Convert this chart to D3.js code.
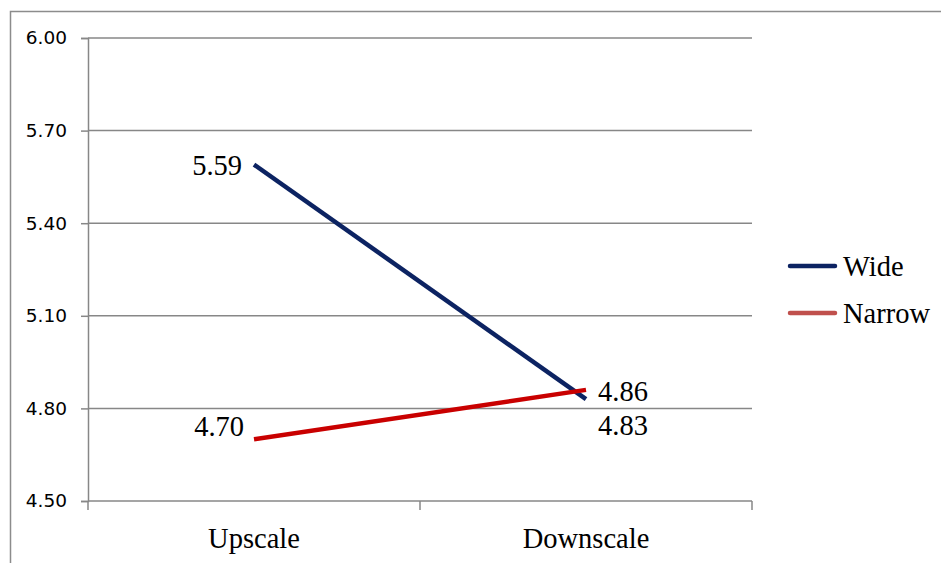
<!DOCTYPE html>
<html>
<head>
<meta charset="utf-8">
<script src="https://cdn.jsdelivr.net/npm/d3@7"></script>
<style>
  html, body { margin: 0; padding: 0; background: #fff; }
  svg { display: block; }
</style>
</head>
<body>
<svg id="chart" width="941" height="563"></svg>
<script>
// Chart data
const categories = ["Upscale", "Downscale"];
const wideValues = [5.59, 4.83];
const narrowValues = [4.70, 4.86];
const yTicks = [4.50, 4.80, 5.10, 5.40, 5.70, 6.00];
const seriesNames = ["Wide", "Narrow"];

const svg = d3.select("#chart");
const plot = { left: 88, right: 752, top: 38, bottom: 501 };

// Outer frame (runs off the right and bottom edges)
svg.append("rect")
  .attr("x", 10.5).attr("y", 11.5)
  .attr("width", 960).attr("height", 600)
  .attr("fill", "none").attr("stroke", "#8c8c8c").attr("stroke-width", 1.5);

const x = d3.scaleBand().domain(categories).range([plot.left, plot.right]);
const y = d3.scaleLinear().domain([4.5, 6.0]).range([plot.bottom, plot.top]);
const cx = c => x(c) + x.bandwidth() / 2;

// Horizontal gridlines
svg.append("g").selectAll("line").data(yTicks.slice(1)).join("line")
  .attr("x1", plot.left).attr("x2", plot.right)
  .attr("y1", d => y(d)).attr("y2", d => y(d))
  .attr("stroke", "#878787").attr("stroke-width", 1.5);

// Y axis
const yAxis = d3.axisLeft(y).tickValues(yTicks).tickFormat(d3.format(".2f")).tickSize(7).tickPadding(14);
const gy = svg.append("g").attr("transform", `translate(${plot.left},0)`).call(yAxis);
gy.select(".domain").attr("stroke", "#878787").attr("stroke-width", 1.5);
gy.selectAll(".tick line").attr("stroke", "#878787").attr("stroke-width", 1.5);
gy.selectAll(".tick text").attr("fill", "#000")
  .style("font-family", "'DejaVu Sans', sans-serif").style("font-size", "18.5px");

// X axis with ticks at band boundaries
const labelFont = "'Liberation Serif', 'Times New Roman', serif";
const gx = svg.append("g").attr("transform", `translate(0,${plot.bottom})`);
gx.append("line").attr("x1", plot.left).attr("x2", plot.right)
  .attr("stroke", "#878787").attr("stroke-width", 1.5);
const bounds = [x(categories[0]), x(categories[1]), x(categories[1]) + x.bandwidth()];
gx.selectAll(".bt").data(bounds).join("line").attr("class", "bt")
  .attr("x1", d => d).attr("x2", d => d).attr("y1", 0).attr("y2", 9)
  .attr("stroke", "#878787").attr("stroke-width", 1.5);
gx.selectAll("text").data(categories).join("text")
  .attr("x", d => cx(d)).attr("y", 47)
  .attr("text-anchor", "middle")
  .style("font-family", labelFont)
  .style("font-size", "28.5px").attr("fill", "#000")
  .text(d => d);

// Series lines
const line = d3.line().x((d, i) => cx(categories[i])).y(d => y(d));
svg.append("path").datum(wideValues).attr("d", line)
  .attr("fill", "none").attr("stroke", "#0c2362").attr("stroke-width", 4.5);
svg.append("path").datum(narrowValues).attr("d", line)
  .attr("fill", "none").attr("stroke", "#c90000").attr("stroke-width", 4.5);

// Value labels
function valueLabel(v, cat, dx, dy, anchor) {
  svg.append("text")
    .attr("x", cx(cat) + dx).attr("y", y(v) + dy)
    .attr("text-anchor", anchor)
    .style("font-family", labelFont).style("font-size", "28.5px").attr("fill", "#000")
    .text(v.toFixed(2));
}
valueLabel(wideValues[0], categories[0], -12, 10.5, "end");
valueLabel(narrowValues[0], categories[0], -10, -3, "end");
valueLabel(narrowValues[1], categories[1], 12, 11, "start");
valueLabel(wideValues[1], categories[1], 12, 36, "start");

// Legend
const legendColors = ["#0c2362", "#c0504d"];
const lg = svg.append("g");
seriesNames.forEach((name, i) => {
  const ly = 266 + i * 47;
  lg.append("line").attr("x1", 790).attr("x2", 835).attr("y1", ly).attr("y2", ly)
    .attr("stroke", legendColors[i]).attr("stroke-width", 4.5).attr("stroke-linecap", "round");
  lg.append("text").attr("x", 843).attr("y", ly + 10)
    .style("font-family", labelFont).style("font-size", "28.5px").attr("fill", "#000")
    .text(name);
});
</script>
</body>
</html>
